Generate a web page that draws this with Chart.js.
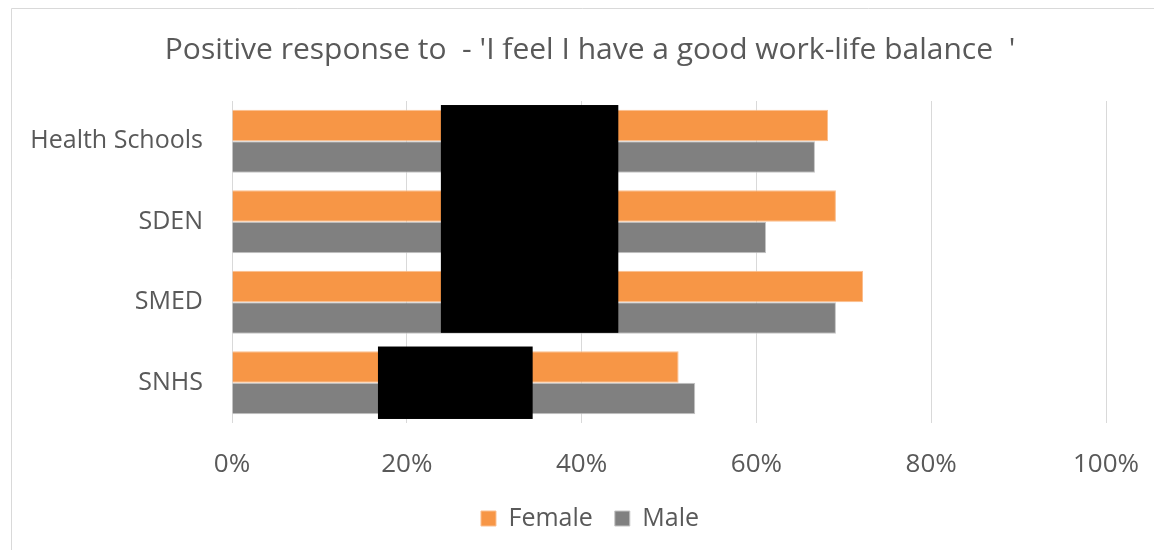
<!DOCTYPE html>
<html>
<head>
<meta charset="utf-8">
<title>Work-life balance</title>
<script src="https://cdn.jsdelivr.net/npm/chart.js@4"></script>
<style>
  html, body { margin: 0; padding: 0; background: #fff; }
  #wrap { width: 1154px; height: 550px; position: relative; }
</style>
</head>
<body>
<div id="wrap"><canvas id="balanceChart" width="1154" height="550"></canvas></div>
<script>
// schools on the y axis, share of positive answers per gender (%)
const schools = ['Health Schools', 'SDEN', 'SMED', 'SNHS']
const female = [68.2, 69.1, 72.2, 51.1]
const male = [66.7, 61.1, 69.1, 53.0]
const xTicks = [0, 20, 40, 60, 80, 100]

const orange = '#f79646'
const grey = '#808080'
const textGrey = '#595959'
const font = '"Open Sans", sans-serif'

// black boxes laid over part of the bars (value / category coordinates)
const blackouts = [
    { from: 23.9, to: 44.2, top: -0.45, bottom: 2.38 },
    { from: 16.7, to: 34.4, top: 2.55, bottom: 3.45 }
]

const frame = {
    id: 'frame',
    beforeDraw(chart) {
        let c = chart.ctx
        c.save()
        c.fillStyle = '#fff'
        c.fillRect(0, 0, chart.width, chart.height)
        c.strokeStyle = '#d9d9d9'
        c.lineWidth = 1
        c.beginPath()
        c.moveTo(11.5, chart.height)
        c.lineTo(11.5, 8.5)
        c.lineTo(chart.width, 8.5)
        c.stroke()
        c.restore()
    }
}

const blackout = {
    id: 'blackout',
    afterDatasetsDraw(chart) {
        let x = chart.scales.x
        let y = chart.scales.y
        let c = chart.ctx
        c.save()
        c.fillStyle = '#000'
        blackouts.forEach(b => {
            let x0 = x.getPixelForValue(b.from)
            let x1 = x.getPixelForValue(b.to)
            let y0 = y.getPixelForValue(b.top)
            let y1 = y.getPixelForValue(b.bottom)
            c.fillRect(x0, y0, x1 - x0, y1 - y0)
        })
        c.restore()
    }
}

new Chart(document.getElementById('balanceChart').getContext('2d'), {
    type: 'bar',
    plugins: [frame, blackout],
    data: {
        labels: schools,
        datasets: [
            {
                label: 'Female',
                data: female,
                backgroundColor: orange,
                borderColor: '#fbbf8f',
                borderWidth: 1,
                categoryPercentage: 0.78,
                barPercentage: 1.0
            },
            {
                label: 'Male',
                data: male,
                backgroundColor: grey,
                borderColor: '#c4c4c4',
                borderWidth: 1,
                categoryPercentage: 0.78,
                barPercentage: 1.0
            }
        ]
    },
    options: {
        indexAxis: 'y',
        responsive: false,
        animation: false,
        layout: { padding: { left: 26, right: 0, top: 0, bottom: 9 } },
        plugins: {
            title: {
                display: true,
                text: "Positive response to  - 'I feel I have a good work-life balance  '",
                color: textGrey,
                font: { family: font, size: 30, weight: 'normal' },
                padding: { top: 32, bottom: 33 }
            },
            legend: {
                position: 'bottom',
                labels: {
                    color: textGrey,
                    font: { family: font, size: 25 },
                    boxWidth: 15,
                    boxHeight: 15,
                    padding: 22
                }
            },
            tooltip: { enabled: false }
        },
        scales: {
            x: {
                min: 0,
                max: 100,
                afterBuildTicks: scale => {
                    scale.ticks = xTicks.map(v => ({ value: v }))
                },
                afterFit: scale => {
                    scale.height = 61
                    scale.paddingLeft = 0
                    scale.paddingRight = 0
                },
                grid: { color: '#d9d9d9', drawTicks: false },
                border: { display: false },
                ticks: {
                    color: textGrey,
                    font: { family: font, size: 26 },
                    padding: 26,
                    maxRotation: 0,
                    callback: v => v + '%'
                }
            },
            y: {
                afterFit: scale => { scale.width = 206 },
                grid: { display: false, drawTicks: false },
                border: { display: false },
                ticks: {
                    color: textGrey,
                    font: { family: font, size: 25 },
                    padding: 29
                }
            },
            // empty strip on the right so the plot stops short of the edge
            spacer: {
                type: 'category',
                labels: schools,
                position: 'right',
                afterFit: scale => { scale.width = 48 },
                grid: { display: false, drawTicks: false },
                border: { display: false },
                ticks: { display: false }
            }
        }
    }
})
</script>
</body>
</html>
